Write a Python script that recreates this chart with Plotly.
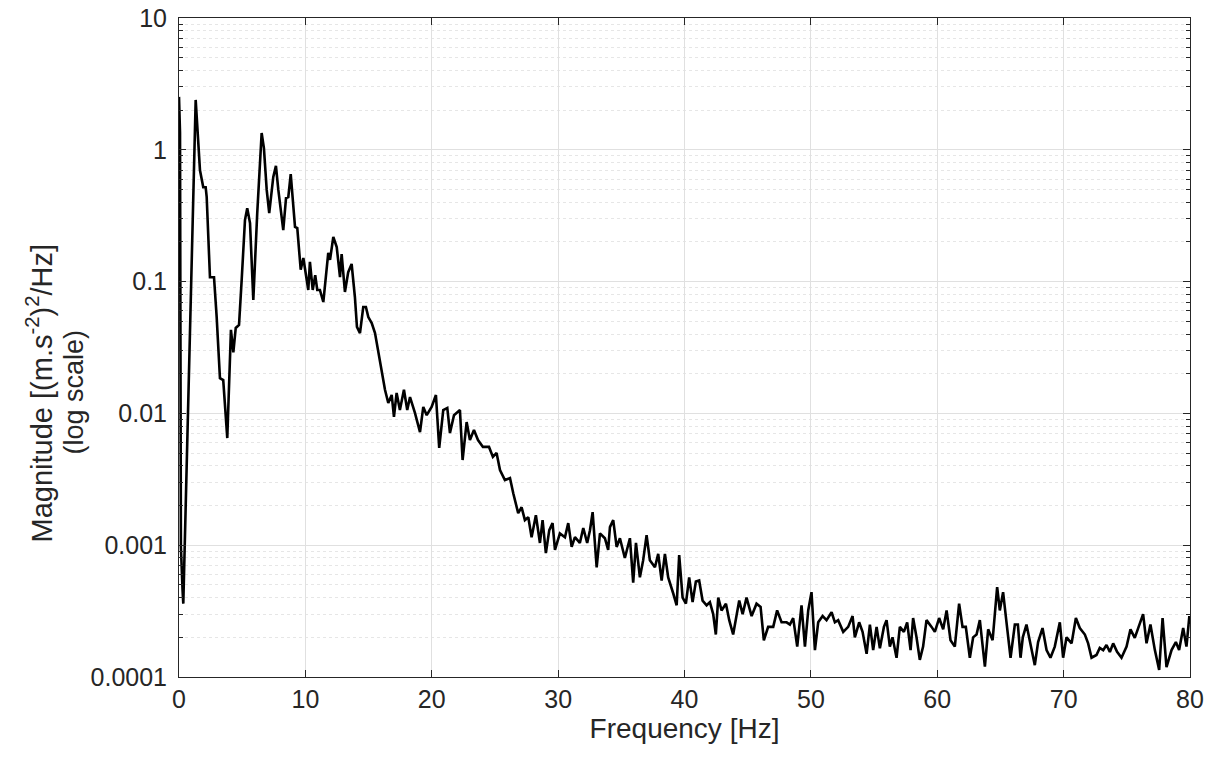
import plotly.graph_objects as go

# Frequency [Hz] and PSD magnitude
freq = [0.0, 0.08, 0.15, 0.20, 0.28, 0.34, 0.42, 0.47, 1.32, 1.66, 1.92, 2.11, 2.19, 2.45, 2.77,
        2.98, 3.24, 3.50, 3.82, 4.11, 4.30, 4.49, 4.75, 4.96, 5.22, 5.40, 5.62, 5.88, 6.19,
        6.54, 6.72, 6.94, 7.14, 7.46, 7.67, 7.86, 8.25, 8.47, 8.65, 8.84, 9.18, 9.36, 9.63,
        9.84, 10.05, 10.23, 10.36, 10.58, 10.78, 10.94, 11.15, 11.42, 11.81, 11.95, 12.21,
        12.48, 12.74, 12.87, 13.13, 13.39, 13.66, 13.92, 14.08, 14.32, 14.58, 14.79, 14.98,
        15.25, 15.51, 15.77, 16.04, 16.30, 16.56, 16.83, 17.01, 17.22, 17.48, 17.80, 18.06,
        18.28, 18.67, 19.07, 19.33, 19.60, 19.99, 20.33, 20.59, 20.91, 21.23, 21.44, 21.76,
        22.23, 22.44, 22.76, 23.02, 23.34, 23.66, 24.05, 24.53, 24.84, 25.13, 25.40, 25.79,
        26.19, 26.45, 26.84, 27.11, 27.37, 27.64, 27.90, 28.24, 28.56, 28.77, 29.03, 29.30,
        29.56, 29.75, 30.14, 30.54, 30.80, 31.07, 31.33, 31.72, 31.99, 32.30, 32.52, 32.73,
        33.05, 33.31, 33.70, 33.96, 34.10, 34.36, 34.63, 34.89, 35.28, 35.68, 35.94, 36.16,
        36.47, 36.73, 37.00, 37.26, 37.66, 37.92, 38.19, 38.45, 38.71, 39.11, 39.38, 39.58,
        39.85, 40.11, 40.37, 40.64, 40.90, 41.16, 41.43, 41.75, 42.01, 42.27, 42.48, 42.67,
        42.93, 43.28, 43.54, 43.85, 44.33, 44.60, 44.91, 45.31, 45.70, 46.02, 46.28, 46.62,
        47.02, 47.33, 47.68, 48.08, 48.34, 48.60, 48.92, 49.26, 49.53, 49.79, 50.05, 50.32,
        50.58, 50.93, 51.24, 51.64, 51.90, 52.16, 52.56, 52.95, 53.30, 53.48, 53.82, 54.09,
        54.41, 54.67, 54.93, 55.20, 55.46, 55.78, 55.99, 56.25, 56.46, 56.78, 57.04, 57.36,
        57.62, 57.89, 58.09, 58.36, 58.62, 58.88, 59.15, 59.55, 59.81, 60.15, 60.47, 60.74,
        61.05, 61.39, 61.73, 62.00, 62.26, 62.58, 62.84, 63.11, 63.37, 63.77, 64.03, 64.38,
        64.74, 64.95, 65.21, 65.48, 65.80, 66.14, 66.38, 66.59, 66.77, 67.06, 67.46, 67.72,
        67.98, 68.33, 68.65, 68.96, 69.30, 69.70, 69.96, 70.23, 70.63, 70.97, 71.28, 71.68,
        71.94, 72.21, 72.60, 72.86, 73.13, 73.39, 73.66, 73.92, 74.23, 74.58, 74.98, 75.29,
        75.63, 75.89, 76.29, 76.56, 76.87, 77.22, 77.56, 77.83, 78.14, 78.54, 78.88, 79.14,
        79.46, 79.72, 79.95, 80.0]

magnitude = [2.52, 1.36, 0.00097, 0.00065, 0.00046, 0.00036, 0.00077, 0.00097, 2.39, 0.70,
             0.52, 0.52, 0.44, 0.108, 0.108, 0.054, 0.0185, 0.0179, 0.0065, 0.043, 0.029,
             0.0445, 0.047, 0.103, 0.293, 0.361, 0.278, 0.0725, 0.331, 1.34, 1.03, 0.496,
             0.331, 0.622, 0.755, 0.496, 0.246, 0.431, 0.438, 0.655, 0.26, 0.255, 0.123,
             0.151, 0.116, 0.0864, 0.141, 0.0864, 0.112, 0.0864, 0.0864, 0.070, 0.165,
             0.146, 0.218, 0.183, 0.108, 0.162, 0.0834, 0.118, 0.136, 0.0764, 0.0453,
             0.0407, 0.0641, 0.0641, 0.0538, 0.0485, 0.0407, 0.0292, 0.0213, 0.0151, 0.012,
             0.0138, 0.0094, 0.0143, 0.0106, 0.0151, 0.0106, 0.0133, 0.0101, 0.0072, 0.0112,
             0.0097, 0.0112, 0.0138, 0.00547, 0.0106, 0.011, 0.0071, 0.0097, 0.0106, 0.00443,
             0.0086, 0.00628, 0.00748, 0.00628, 0.00557, 0.00557, 0.00468, 0.00501, 0.00372,
             0.00312, 0.00323, 0.00248, 0.00175, 0.00194, 0.00155, 0.00163, 0.00115, 0.00169,
             0.00104, 0.00155, 0.00087, 0.0013, 0.00147, 0.00092, 0.00123, 0.00115, 0.00147,
             0.00097, 0.00115, 0.00104, 0.00135, 0.00104, 0.0013, 0.00178, 0.00068, 0.00123,
             0.00113, 0.00092, 0.00137, 0.00155, 0.00097, 0.00113, 0.0008, 0.00113, 0.00052,
             0.00104, 0.00057, 0.00077, 0.00119, 0.00077, 0.00068, 0.00086, 0.00054, 0.00086,
             0.00057, 0.00043, 0.00035, 0.00084, 0.00040, 0.00036, 0.00057, 0.00037, 0.00053,
             0.00054, 0.00038, 0.00035, 0.00037, 0.00030, 0.00021, 0.00040, 0.00032, 0.00036,
             0.00027, 0.00021, 0.00038, 0.00030, 0.00040, 0.00029, 0.00036, 0.00034, 0.00019,
             0.00024, 0.00024, 0.00032, 0.00026, 0.00026, 0.00025, 0.00028, 0.00017, 0.00035,
             0.00017, 0.00032, 0.00044, 0.00016, 0.00026, 0.00029, 0.00027, 0.00031, 0.00026,
             0.00027, 0.00022, 0.00024, 0.00029, 0.00020, 0.00026, 0.00022, 0.00015, 0.00025,
             0.00016, 0.00024, 0.000165, 0.00024, 0.00027, 0.00017, 0.00020, 0.00014, 0.00024,
             0.00022, 0.00026, 0.00016, 0.00028, 0.00020, 0.000135, 0.00017, 0.00027, 0.00024,
             0.00022, 0.00028, 0.00023, 0.00032, 0.00019, 0.00017, 0.00036, 0.00024, 0.00024,
             0.00014, 0.00020, 0.00021, 0.00027, 0.00012, 0.00023, 0.00019, 0.00048, 0.00032,
             0.00044, 0.00026, 0.00014, 0.00025, 0.00025, 0.00014, 0.00020, 0.00025, 0.00016,
             0.000123, 0.000184, 0.000235, 0.00016, 0.00014, 0.00017, 0.00026, 0.00014,
             0.00020, 0.00018, 0.00028, 0.000235, 0.00021, 0.00018, 0.00014, 0.000147,
             0.000166, 0.00016, 0.000175, 0.000155, 0.00018, 0.000155, 0.00014, 0.00017,
             0.00023, 0.000198, 0.000235, 0.00030, 0.00018, 0.00025, 0.00016, 0.000113,
             0.00028, 0.000119, 0.00016, 0.000184, 0.00016, 0.000235, 0.00017, 0.00029,
             0.00025]

x_ticks = [0, 10, 20, 30, 40, 50, 60, 70, 80]
y_tickvals = [0.0001, 0.001, 0.01, 0.1, 1, 10]
y_ticktext = ["0.0001", "0.001", "0.01", "0.1", "1", "10"]
y_minor = [m * d for d in [0.0001, 0.001, 0.01, 0.1, 1] for m in range(2, 10)]
x_title = "Frequency [Hz]"
y_title_1 = "Magnitude [(m.s<sup>-2</sup>)<sup>2</sup>/Hz]"
y_title_2 = "(log scale)"

FONT = "Liberation Sans, Arial, Helvetica, sans-serif"
AXC = "#262626"

fig = go.Figure()
fig.add_trace(go.Scatter(x=freq, y=magnitude, mode="lines",
                         line=dict(color="black", width=2.6), hoverinfo="x+y",
                         showlegend=False))

fig.update_layout(
    width=1216, height=760,
    margin=dict(l=179, r=26, t=18, b=83, autoexpand=False),
    paper_bgcolor="white", plot_bgcolor="white",
    font=dict(family=FONT, color=AXC, size=25),
)
fig.update_xaxes(
    range=[0, 80], tickvals=x_ticks, ticks="inside", ticklen=7, tickcolor=AXC,
    showline=True, linecolor=AXC, linewidth=1, mirror="allticks", automargin=False,
    showgrid=True, gridcolor="#e0e0e0", gridwidth=1, zeroline=False,
    tickfont=dict(size=25, color=AXC),
    title=dict(text=x_title, font=dict(size=28, color=AXC), standoff=2),
)
fig.update_yaxes(
    type="log", range=[-4, 1], tickmode="array", tickvals=y_tickvals, ticktext=y_ticktext,
    ticks="inside", ticklen=7, tickcolor=AXC, ticklabelstandoff=6, automargin=False,
    ticklabeloverflow="allow",
    showline=True, linecolor=AXC, linewidth=1, mirror="allticks",
    showgrid=True, gridcolor="#e0e0e0", gridwidth=1, zeroline=False,
    minor=dict(tickmode="array", tickvals=y_minor, ticks="inside", ticklen=4,
               tickcolor=AXC, showgrid=True, gridcolor="#e6e6e6", griddash="dot"),
    tickfont=dict(size=25, color=AXC),
)
# y title placed to the left of the tick labels (two centred lines)
fig.add_annotation(text=y_title_1, xref="paper", yref="paper", x=-0.138, y=0.431,
                   xanchor="center", yanchor="middle", textangle=-90, showarrow=False,
                   font=dict(size=29, color=AXC, family=FONT))
fig.add_annotation(text=y_title_2, xref="paper", yref="paper", x=-0.104, y=0.433,
                   xanchor="center", yanchor="middle", textangle=-90, showarrow=False,
                   font=dict(size=27, color=AXC, family=FONT))

fig.write_html(
    "out.html",
    config={"displayModeBar": False},
    post_script="document.body.style.margin='0';document.body.style.overflow='hidden';"
                "document.documentElement.style.overflow='hidden';",
)
